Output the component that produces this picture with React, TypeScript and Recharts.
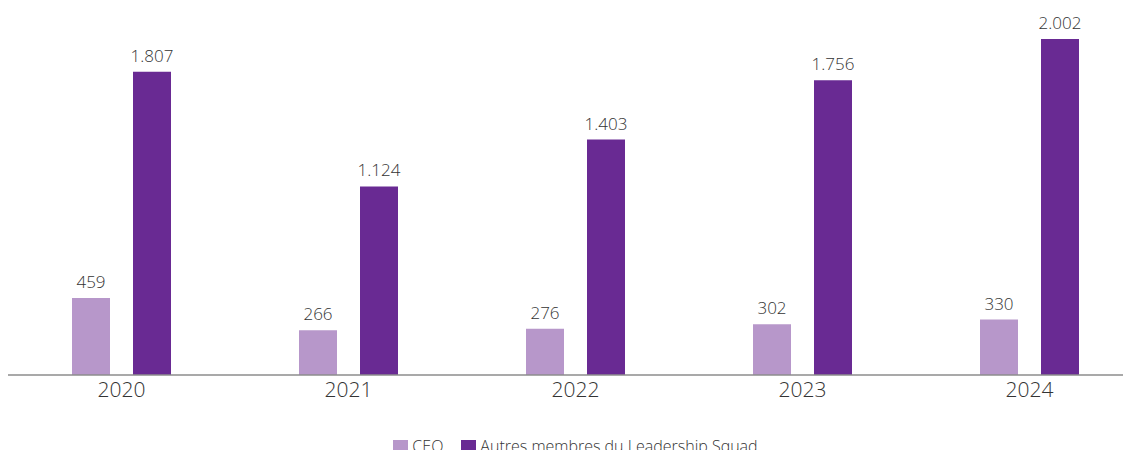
import React from "react";
import { BarChart, Bar, XAxis, YAxis, Legend, LabelList } from "recharts";

const years = ["2020", "2021", "2022", "2023", "2024"];
const ceo = [459, 266, 276, 302, 330];
const others = [1807, 1124, 1403, 1756, 2002];

const data = years.map((y, i) => ({ year: y, ceo: ceo[i], others: others[i] }));

const FONT = "'Open Sans', Lato, 'DejaVu Sans', sans-serif";
const fmt = (v: any) => String(v).replace(/\B(?=(\d{3})+(?!\d))/g, ".");

export default function App() {
  return (
    <div style={{ width: 1123, height: 442, overflow: "hidden", fontFamily: FONT }}>
      <BarChart
        width={1135}
        height={460}
        data={data}
        margin={{ top: 0, right: 0, left: 0, bottom: 3 }}
        barSize={38}
        barGap={23}
      >
        <XAxis
          dataKey="year"
          height={60}
          axisLine={{ stroke: "#8c8c8c", strokeWidth: 1.5 }}
          tickLine={false}
          tickMargin={1}
          tick={{ fontSize: 21, fill: "#333333", fontFamily: FONT, fontWeight: 300 }}
        />
        <YAxis hide domain={[0, 2187]} />
        <Legend
          verticalAlign="bottom"
          height={30}
          iconType="square"
          iconSize={15}
          itemSorter={(item: any) => (item.dataKey === "ceo" ? 0 : 1)}
          wrapperStyle={{ fontSize: 16, fontFamily: FONT, fontWeight: 300, color: "#333333", paddingLeft: 10, boxSizing: "border-box" }}
          formatter={(value: string) => (
            <span style={{ color: "#333333", marginRight: value === "CEO" ? 8 : 0 }}>{value}</span>
          )}
        />
        <Bar dataKey="ceo" name="CEO" fill="#b797ca" isAnimationActive={false}>
          <LabelList dataKey="ceo" position="top" offset={10} formatter={fmt} fill="#333333" fontSize={17} fontFamily={FONT} fontWeight={300} />
        </Bar>
        <Bar dataKey="others" name="Autres membres du Leadership Squad" fill="#692a93" isAnimationActive={false}>
          <LabelList dataKey="others" position="top" offset={10} formatter={fmt} fill="#333333" fontSize={17} fontFamily={FONT} fontWeight={300} />
        </Bar>
      </BarChart>
    </div>
  );
}
